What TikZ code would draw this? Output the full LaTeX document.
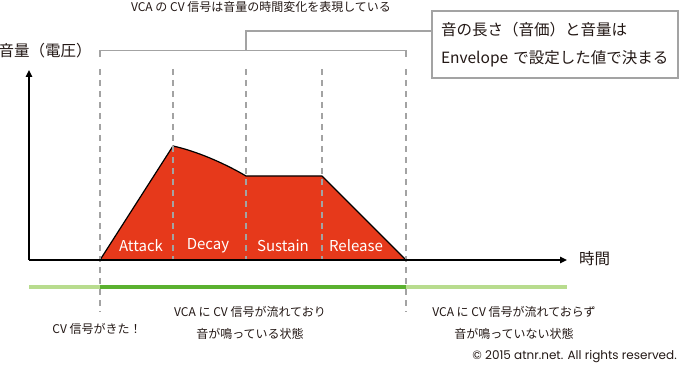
\documentclass[tikz,border=0pt]{standalone}
\usepackage{fontspec}
\setmainfont{Noto Sans CJK JP}
\newfontfamily\copyfont{Poppins}
\usetikzlibrary{arrows.meta,positioning}
\definecolor{envred}{HTML}{E6391B}
\definecolor{cvlight}{HTML}{B8DC8E}
\definecolor{cvdark}{HTML}{5BB12F}
\definecolor{guide}{HTML}{A3A3A3}
\definecolor{txt}{HTML}{231815}

\begin{document}
\begin{tikzpicture}[x=1pt,y=-1pt]
  \tikzset{
    lbl/.style={text=txt, inner sep=0pt, align=center,
      font=\fontsize{12}{22}\selectfont},
    axlbl/.style={text=txt, inner sep=0pt, font=\fontsize{15.5}{17}\selectfont},
    phase/.style={text=white, inner sep=0pt, font=\fontsize{15}{17}\selectfont},
    notebox/.style={draw=guide, line width=1.8pt, fill=white, text=txt,
      inner xsep=9pt, text width=228pt, minimum height=67pt, align=left,
      font=\fontsize{15.5}{28}\selectfont},
    axis/.style={line width=1.4pt, -{Triangle[length=7pt,width=6.5pt]}},
    guideline/.style={guide, line width=1.1pt, dash pattern=on 6pt off 5pt},
    brk/.style={guide, line width=1.8pt},
    env/.style={fill=envred, draw=black, line width=1.2pt, line join=round}}
  \useasboundingbox (0,0) rectangle (680,366);

  \coordinate (o) at (29,260);
  \coordinate (ytop) at (29,70);
  \coordinate (xend) at (567,260);
  \coordinate (a0) at (100,260);
  \coordinate (pk) at (173,146);
  \coordinate (dk) at (246,176);
  \coordinate (su) at (322,176);
  \coordinate (r0) at (406,260);

  \draw[env] (a0) -- (pk) .. controls (196,151) and (224,163) .. (dk)
    -- (su) -- (r0) -- cycle;

  \draw[guideline] (100,69) -- (100,312);
  \draw[guideline] (173,69) -- (173,260);
  \draw[guideline] (246,69) -- (246,260);
  \draw[guideline] (322,69) -- (322,260);
  \draw[guideline] (406,69) -- (406,312);

  \draw[axis] (o) -- (ytop);
  \draw[axis] (o) -- (xend);

  \node[axlbl] (ylab) at (45,51) {音量（電圧）};
  \node[axlbl, anchor=west] (xlab) at (579,259) {時間};

  \node[phase] (attack) at (141,246) {Attack};
  \node[phase] (decay) at (208,246) {Decay};
  \node[phase] (sustain) at (283,246) {Sustain};
  \node[phase] (release) at (356,246) {Release};

  \node[lbl] (title) at (261,7) {VCA の CV 信号は音量の時間変化を表現している};
  \node[notebox] (note) at (555,44.5) {音の長さ（音価）と音量は\\Envelope で設定した値で決まる};
  \coordinate (bl) at (100,57);
  \coordinate (br) at (406,57);
  \coordinate (bmid) at (246,50.5);
  \coordinate (tick) at (246,31);
  \draw[brk] (bl) |- (bmid) -| (br);
  \draw[brk] (bmid) -- (tick) -- (tick -| note.west);

  \coordinate (cvs) at (29,287);
  \coordinate (cvon) at (100,287);
  \coordinate (cvoff) at (406,287);
  \coordinate (cve) at (567,287);
  \draw[cvlight, line width=3.2pt] (cvs) -- (cve);
  \draw[cvdark, line width=3.2pt] (cvon) -- (cvoff);

  \node[lbl] (cvin) at (97,329) {CV 信号がきた！};
  \node[lbl] (on) at (250,323) {VCA に CV 信号が流れており\\音が鳴っている状態};
  \node[lbl] (off) at (514,323) {VCA に CV 信号が流れておらず\\音が鳴っていない状態};
  \node[text=txt, inner sep=0pt, anchor=east, font=\copyfont\fontsize{12}{14}\selectfont]
    (copy) at (677,357) {© 2015 atnr.net. All rights reserved.};
\end{tikzpicture}
\end{document}
